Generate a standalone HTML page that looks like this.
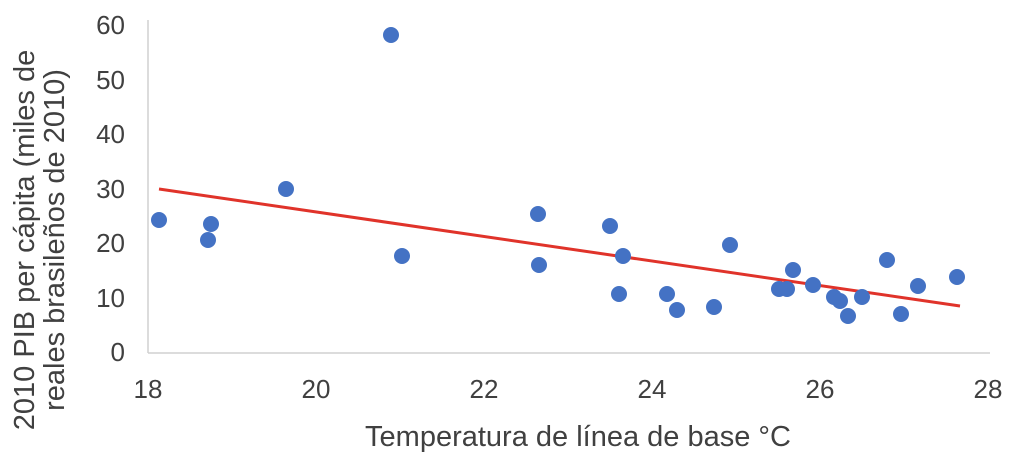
<!DOCTYPE html>
<html><head><style>body{margin:0;background:#fff}</style></head><body>
<svg width="1024" height="462" xmlns="http://www.w3.org/2000/svg" font-family="Liberation Sans, sans-serif" fill="#404040">
<line x1="148" y1="20" x2="148" y2="353" stroke="#d0d0d0" stroke-width="1.5"/>
<line x1="148" y1="353" x2="990" y2="353" stroke="#d0d0d0" stroke-width="1.5"/>
<g font-size="26" text-anchor="end">
<text x="125" y="361">0</text><text x="125" y="307">10</text><text x="125" y="252">20</text><text x="125" y="198">30</text><text x="125" y="143">40</text><text x="125" y="89">50</text><text x="125" y="34">60</text>
</g>
<g font-size="26" text-anchor="middle">
<text x="148" y="398">18</text><text x="316" y="398">20</text><text x="484" y="398">22</text><text x="652" y="398">24</text><text x="820" y="398">26</text><text x="988" y="398">28</text>
</g>
<text x="578" y="446" font-size="29" text-anchor="middle">Temperatura de línea de base °C</text>
<g font-size="29" text-anchor="middle">
<text transform="translate(34,240) rotate(-90)">2010  PIB per cápita (miles de</text>
<text transform="translate(64,240) rotate(-90)">reales brasileños de 2010)</text>
</g>
<line x1="159" y1="189" x2="960" y2="306" stroke="#e0332a" stroke-width="3"/>
<g fill="#4472c4">
<circle cx="159" cy="220" r="8"/><circle cx="208" cy="240" r="8"/><circle cx="211" cy="224" r="8"/><circle cx="286" cy="189" r="8"/><circle cx="391" cy="35" r="8"/><circle cx="402" cy="256" r="8"/><circle cx="538" cy="214" r="8"/><circle cx="539" cy="265" r="8"/><circle cx="610" cy="226" r="8"/><circle cx="619" cy="294" r="8"/><circle cx="623" cy="256" r="8"/><circle cx="667" cy="294" r="8"/><circle cx="677" cy="310" r="8"/><circle cx="714" cy="307" r="8"/><circle cx="730" cy="245" r="8"/><circle cx="779" cy="289" r="8"/><circle cx="787" cy="289" r="8"/><circle cx="793" cy="270" r="8"/><circle cx="813" cy="285" r="8"/><circle cx="834" cy="297" r="8"/><circle cx="840" cy="301" r="8"/><circle cx="848" cy="316" r="8"/><circle cx="862" cy="297" r="8"/><circle cx="887" cy="260" r="8"/><circle cx="901" cy="314" r="8"/><circle cx="918" cy="286" r="8"/><circle cx="957" cy="277" r="8"/>
</g>
</svg>
</body></html>
